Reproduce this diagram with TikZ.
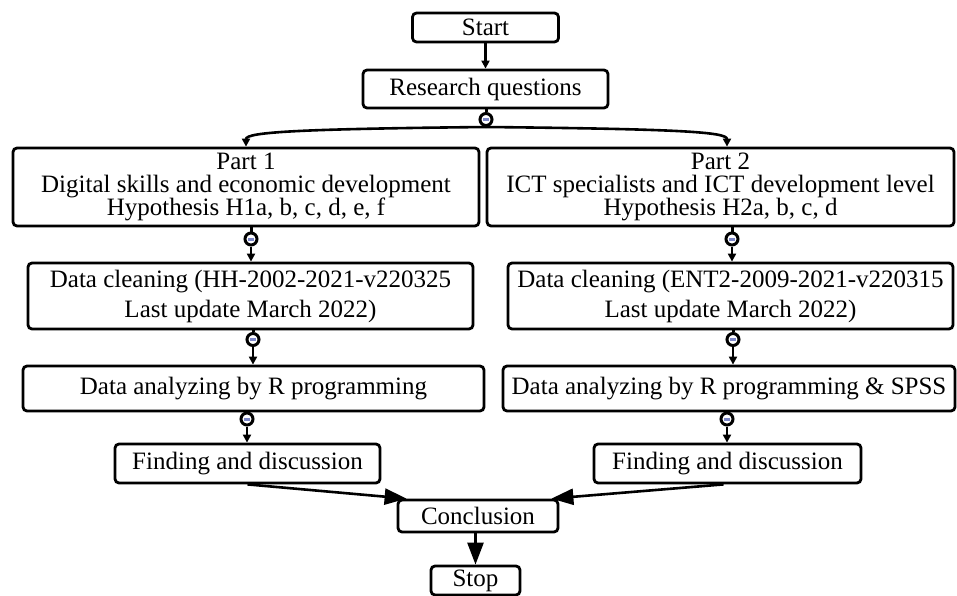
\documentclass[tikz,border=0pt]{standalone}
\usepackage{fontspec}
\setmainfont{Liberation Serif}
\usetikzlibrary{arrows.meta,calc}
\definecolor{dashblue}{RGB}{125,135,200}
\begin{document}
\begin{tikzpicture}[x=1pt,y=-1pt,
  box/.style={draw, line width=2.8pt, rounded corners=4pt, inner sep=0pt, align=center, font=\fontsize{25}{23}\selectfont},
  twoline/.style={font=\fontsize{25}{30}\selectfont},
  conn/.style={circle, draw, line width=3pt, fill=white, minimum size=12pt, inner sep=0pt},
  small/.style={line width=2.6pt, -{Triangle[length=8pt,width=8pt]}},
  big/.style={line width=2.6pt, -{Triangle[length=22pt,width=16pt]}},
  stub/.style={line width=3pt}]
\useasboundingbox (0,0) rectangle (957,596);

% boxes
\node[box, minimum width=146pt, minimum height=29pt] (start) at (485.5,27.5) {Start};
\node[box, minimum width=245pt, minimum height=38pt] (rq) at (485.5,89) {Research questions};
\node[box, minimum width=466pt, minimum height=78pt] (p1) at (246,187) {Part 1\\Digital skills and economic development\\Hypothesis H1a, b, c, d, e, f};
\node[box, minimum width=467pt, minimum height=78pt] (p2) at (720.5,187) {Part 2\\ICT specialists and ICT development level\\Hypothesis H2a, b, c, d};
\node[box, twoline, minimum width=445pt, minimum height=66pt] (dc1) at (250.5,296) {Data cleaning (HH-2002-2021-v220325\\Last update March 2022)};
\node[box, twoline, minimum width=445pt, minimum height=66pt] (dc2) at (730.5,296) {Data cleaning (ENT2-2009-2021-v220315\\Last update March 2022)};
\node[box, minimum width=461pt, minimum height=45pt] (da1) at (253.5,388.5) {Data analyzing by R programming};
\node[box, minimum width=452pt, minimum height=45pt] (da2) at (729,388.5) {Data analyzing by R programming \& SPSS};
\node[box, minimum width=265pt, minimum height=39pt] (fd1) at (247.5,463.5) {Finding and discussion};
\node[box, minimum width=267pt, minimum height=39pt] (fd2) at (727.5,463.5) {Finding and discussion};
\node[box, minimum width=160pt, minimum height=32pt] (conc) at (478,516) {Conclusion};
\node[box, minimum width=89pt, minimum height=29pt] (stop) at (475.5,580.5) {Stop};

% small circular connector points
\node[conn] (c0) at (486,119.5) {\textcolor{dashblue}{\rule{6pt}{3pt}}};
\node[conn] (c1) at (251,239) {\textcolor{dashblue}{\rule{6pt}{3pt}}};
\node[conn] (c2) at (732,239) {\textcolor{dashblue}{\rule{6pt}{3pt}}};
\node[conn] (c3) at (253,339.5) {\textcolor{dashblue}{\rule{6pt}{3pt}}};
\node[conn] (c4) at (733,339.5) {\textcolor{dashblue}{\rule{6pt}{3pt}}};
\node[conn] (c5) at (247,419) {\textcolor{dashblue}{\rule{6pt}{3pt}}};
\node[conn] (c6) at (727,419) {\textcolor{dashblue}{\rule{6pt}{3pt}}};

% connectors
\draw[small] (start.south) -- (rq.north);
\draw[stub] (c0 |- rq.south) -- (c0.north);
\draw[small] (c0.south) .. controls (300,129) and (246,132) .. (p1.north);
\draw[small] (c0.south) .. controls (680,129) and (727,132) .. ($(p2.north)+(6.5,0)$);

\draw[stub] (c1 |- p1.south) -- (c1.north);
\draw[small] (c1.south) -- (c1 |- dc1.north);
\draw[stub] (c2 |- p2.south) -- (c2.north);
\draw[small] (c2.south) -- (c2 |- dc2.north);

\draw[stub] (c3 |- dc1.south) -- (c3.north);
\draw[small] (c3.south) -- (c3 |- da1.north);
\draw[stub] (c4 |- dc2.south) -- (c4.north);
\draw[small] (c4.south) -- (c4 |- da2.north);

\draw[stub] (c5 |- da1.south) -- (c5.north);
\draw[small] (c5.south) -- (c5 |- fd1.north);
\draw[stub] (c6 |- da2.south) -- (c6.north);
\draw[small] (c6.south) -- (c6 |- fd2.north);

\draw[big] (fd1.south) -- ($(conc.north west)+(10,0)$);
\draw[big] ($(fd2.south)+(-4,0)$) -- ($(conc.north east)+(-8,0)$);
\draw[big] (stop.north |- conc.south) -- (stop.north);
\end{tikzpicture}
\end{document}
